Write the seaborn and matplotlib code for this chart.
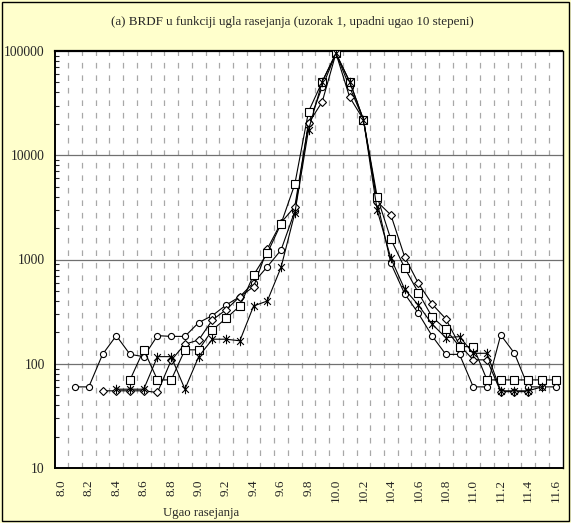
import numpy as np
import pandas as pd
import matplotlib
matplotlib.use("Agg")
import matplotlib.pyplot as plt
from matplotlib.path import Path
from matplotlib.patches import Rectangle
from matplotlib.ticker import FixedLocator, FuncFormatter, LogLocator, NullFormatter
import seaborn as sns

nan = np.nan
categories = [8.0, 8.1, 8.2, 8.3, 8.4, 8.5, 8.6, 8.7, 8.8, 8.9,
              9.0, 9.1, 9.2, 9.3, 9.4, 9.5, 9.6, 9.7, 9.8, 9.9,
              10.0, 10.1, 10.2, 10.3, 10.4, 10.5, 10.6, 10.7, 10.8, 10.9,
              11.0, 11.1, 11.2, 11.3, 11.4, 11.5, 11.6]
tick_labels = ["8.0", "8.2", "8.4", "8.6", "8.8", "9.0", "9.2", "9.4", "9.6", "9.8",
               "10.0", "10.2", "10.4", "10.6", "10.8", "11.0", "11.2", "11.4", "11.6"]

circle = [nan, 60, 60, 123, 186, 123, 117, 186, 183, 183,
          248, 290, 366, 440, 600, 853, 1233, 2900, 20200, 45000,
          95000, 45000, 22000, 3586, 918, 470, 305, 185, 123, 123,
          60, 60, 189, 126, 60, 60, 60]
diamond = [nan, nan, nan, 55, 55, 55, 55, 53, 108, 154,
           169, 263, 330, 440, 548, 1262, 2256, 3206, 20200, 32600,
           95000, 36000, 22000, 3586, 2673, 1064, 592, 374, 270, 151,
           109, 109, 54, 54, 54, nan, nan]
square = [nan, nan, nan, nan, nan, 70, 136, 70, 70, 136,
          136, 211, 273, 358, 710, 1150, 2200, 5259, 26200, 50800,
          95000, 50800, 22000, 4000, 1562, 834, 481, 282, 214, 146,
          146, 70, 70, 70, 70, 70, 70]
star = [nan, nan, nan, nan, 57, 57, 57, 117, 117, 57,
        117, 172, 172, 166, 358, 400, 841, 2773, 17470, 50800,
        95000, 50800, 22000, 2985, 1027, 520, 366, 240, 178, 182,
        126, 126, 55, 55, 55, 60, nan]

sns.set_style("white")
plt.rcParams['font.family'] = ['Liberation Serif', 'DejaVu Serif']

W, H = 571, 523
fig = plt.figure(figsize=(W / 100, H / 100), dpi=100, facecolor='#FFFFCC')
left, right, top, bottom = 54.5, 562.5, 51, 468
ax = fig.add_axes([left / W, 1 - bottom / H, (right - left) / W, (bottom - top) / H])
ax.set_facecolor('white')

ast = Path([(0, -1), (0, 1), (-0.72, -0.72), (0.72, 0.72), (-0.72, 0.72), (0.72, -0.72)],
           [Path.MOVETO, Path.LINETO, Path.MOVETO, Path.LINETO, Path.MOVETO, Path.LINETO])

series = [("circle", circle, 'o', 4.4), ("diamond", diamond, 'D', 4.2),
          ("square", square, 's', 5.4), ("star", star, ast, 6.8)]
for name, vals, mk, ms in series:
    df = pd.DataFrame({"x": categories, "y": vals}).dropna()
    sns.lineplot(data=df, x="x", y="y", ax=ax, color='black', linewidth=0.8,
                 marker=mk, markersize=ms, markerfacecolor='white',
                 markeredgecolor='black', markeredgewidth=0.8, zorder=3)

ax.set_yscale('log')
ax.set_ylim(10, 100000)
ax.set_xlim(7.95, 11.65)

major_x = [float(t) for t in tick_labels]
bounds = [round(7.95 + 0.1 * k, 2) for k in range(38)]
ax.xaxis.set_major_locator(FixedLocator(major_x))
ax.set_xticklabels(tick_labels, rotation=90, fontsize=9.5)
ax.xaxis.set_minor_locator(FixedLocator(bounds))
ax.tick_params(axis='x', which='major', length=0, pad=8)
ax.tick_params(axis='x', which='minor', direction='inout', length=7, width=0.8, color='black')
ax.grid(False)
for b in bounds[1:-1]:
    ax.axvline(b, color='#a8a8a8', linewidth=0.9, linestyle=(0, (4.5, 5.5)), zorder=1)
for d in [100, 1000, 10000]:
    ax.axhline(d, color='#707070', linewidth=0.9, zorder=1)

ax.yaxis.set_major_locator(FixedLocator([10, 100, 1000, 10000, 100000]))
ax.yaxis.set_major_formatter(FuncFormatter(lambda v, p: "%d" % round(v)))
ax.yaxis.set_minor_locator(LogLocator(base=10, subs=np.arange(2, 10)))
ax.yaxis.set_minor_formatter(NullFormatter())
ax.tick_params(axis='y', which='major', direction='inout', length=7, width=0.8, labelsize=9.8, pad=3.5)
ax.tick_params(axis='y', which='minor', direction='in', length=3, width=0.8, left=True)

ax.set_xlabel("")
ax.set_ylabel("")
for s in ax.spines.values():
    s.set_color('black')
    s.set_linewidth(1.0)
ax.spines['top'].set_linewidth(1.6)
ax.spines['bottom'].set_linewidth(1.4)
ax.spines['left'].set_linewidth(1.4)

fig.text(292 / W, 1 - 22 / H, "(a) BRDF u funkciji ugla rasejanja (uzorak 1, upadni ugao 10 stepeni)",
         ha='center', va='center', fontsize=9.4)
fig.text(201 / W, 1 - 513 / H, "Ugao rasejanja", ha='center', va='center', fontsize=9.2)

fig.patches.append(Rectangle((2 / W, 2 / H), (W - 4) / W, (H - 4) / H, transform=fig.transFigure,
                             fill=False, edgecolor='black', linewidth=1.0))

fig.savefig("out.png", dpi=100, facecolor=fig.get_facecolor())
